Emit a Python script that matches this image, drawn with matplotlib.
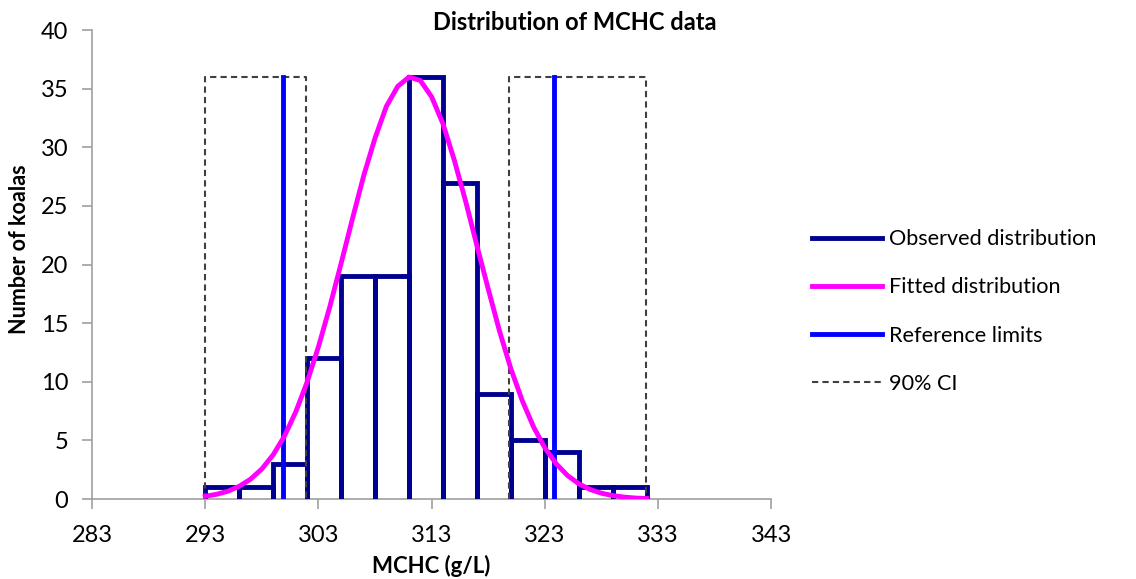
import matplotlib
matplotlib.use("Agg")
import matplotlib.pyplot as plt
from matplotlib.lines import Line2D

plt.rcParams["font.family"] = ["Lato", "DejaVu Sans"]

# histogram of observed MCHC values (g/L)
bin_edges = [293, 296, 299, 302, 305, 308, 311, 314, 317, 320, 323, 326, 329, 332]
counts = [1, 1, 3, 12, 19, 19, 36, 27, 9, 5, 4, 1, 1]

# fitted curve at each g/L
fit_x = list(range(293, 333))
fit_y = [0.24, 0.41, 0.67, 1.09, 1.70, 2.57, 3.78, 5.38, 7.45, 9.99,
         13.0, 16.4, 20.1, 23.9, 27.6, 30.8, 33.5, 35.2, 36.0, 35.7,
         34.3, 32.0, 28.9, 25.4, 21.6, 17.9, 14.3, 11.1, 8.40, 6.15,
         4.36, 3.01, 2.01, 1.30, 0.82, 0.50, 0.30, 0.17, 0.09, 0.05]

ref_limits = [299.9, 323.8]
ci_boxes = [(293, 301.9), (319.8, 331.9)]
line_top = 36

fig = plt.figure(figsize=(11.36, 5.79), dpi=100)
ax = fig.add_axes([0.081, 0.138, 0.598, 0.81])

# observed: each bin drawn as an open box standing on the axis
hx, hy = [], []
for i, c in enumerate(counts):
    l, r = bin_edges[i], bin_edges[i + 1]
    hx += [l, l, r, r]
    hy += [0, c, c, 0]
ax.plot(hx, hy, color="#000090", lw=3.5, solid_joinstyle="miter", zorder=3)

for lo, hi in ci_boxes:
    ax.plot([lo, lo, hi, hi], [0, line_top, line_top, 0], color="#404040",
            lw=1.5, ls=(0, (3, 2)), zorder=4)

for x in ref_limits:
    ax.plot([x, x], [0, line_top], color="#0000ff", lw=3.5, zorder=5)

ax.plot(fit_x, fit_y, color="#ff00ff", lw=3.5, zorder=6)

ax.set_xlim(283, 343)
ax.set_ylim(0, 40)
ax.set_xticks(range(283, 344, 10))
ax.set_yticks(range(0, 41, 5))
for s in ["top", "right"]:
    ax.spines[s].set_visible(False)
for s in ["left", "bottom"]:
    ax.spines[s].set_color("#a0a0a0")
    ax.spines[s].set_linewidth(1.2)
ax.tick_params(colors="#a0a0a0", labelcolor="black", labelsize=17, length=7, width=1.2)
ax.tick_params(axis="x", pad=12)
ax.tick_params(axis="y", pad=10)

ax.set_xlabel("MCHC (g/L)", fontsize=16, fontweight="bold")
ax.set_ylabel("Number of koalas", fontsize=15.5, fontweight="bold")
ax.xaxis.set_label_coords(0.5, -0.118)
ax.yaxis.set_label_coords(-0.091, 0.533)
fig.text(0.506, 0.962, "Distribution of MCHC data", ha="center", va="center",
         fontsize=17, fontweight="bold")

handles = [
    Line2D([], [], color="#000090", lw=3.5),
    Line2D([], [], color="#ff00ff", lw=3.5),
    Line2D([], [], color="#0000ff", lw=3.5),
    Line2D([], [], color="#404040", lw=1.5, ls=(0, (3, 2))),
]
labels = ["Observed distribution", "Fitted distribution", "Reference limits", "90% CI"]
fig.legend(handles, labels, loc="center left", bbox_to_anchor=(0.698, 0.462),
           frameon=False, fontsize=15.6, handlelength=3.2, handletextpad=0.35,
           labelspacing=1.3)

fig.savefig("out.png", dpi=100)
